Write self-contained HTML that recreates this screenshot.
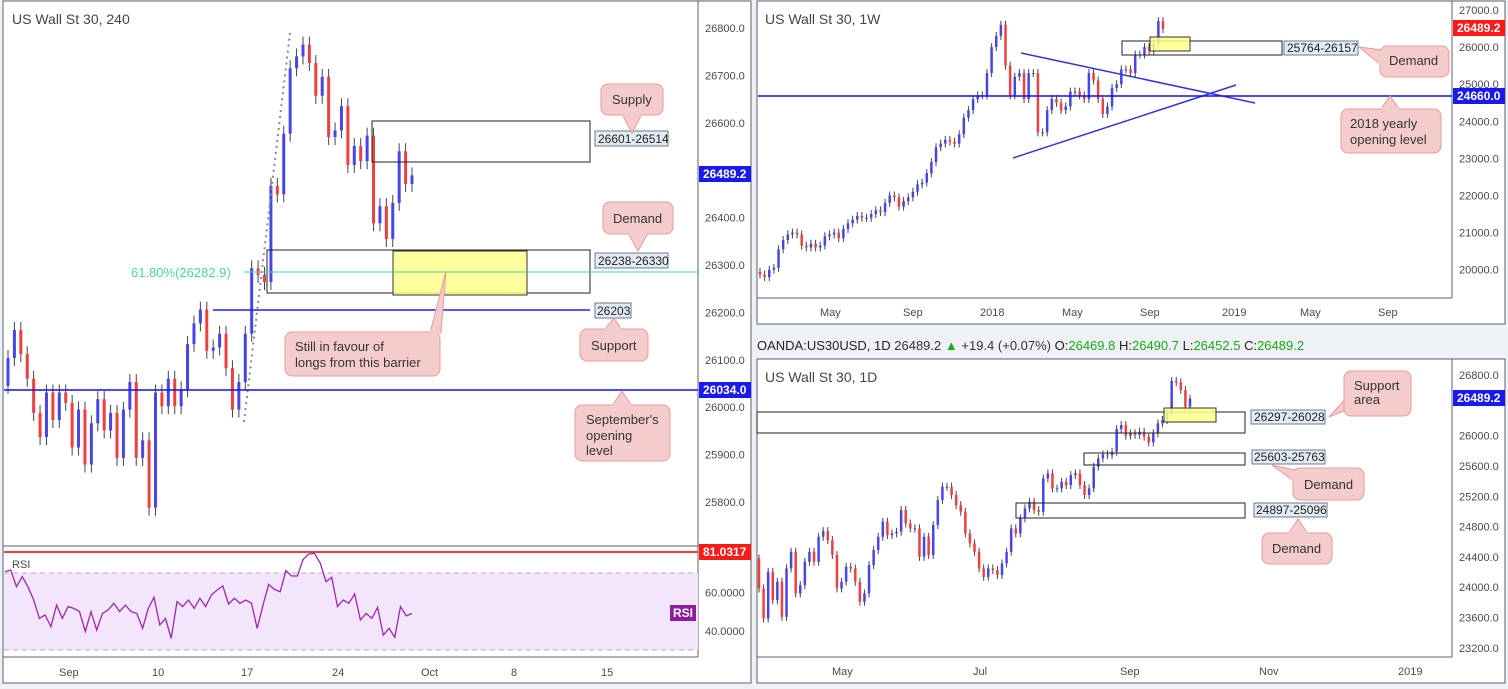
<!DOCTYPE html>
<html><head><meta charset="utf-8">
<style>
html,body{margin:0;padding:0;background:#eef1f5;}
svg{display:block;font-family:"Liberation Sans",sans-serif;}
.ax{font-size:11px;fill:#4a4a4a;}
.tt{font-size:14px;fill:#444;}
.co{font-size:13px;fill:#333;}
.lb{font-size:12px;fill:#222;}
</style></head>
<body>
<svg id="chart" width="1508" height="689" viewBox="0 0 1508 689" xmlns="http://www.w3.org/2000/svg">
  <!-- panels -->
  <rect x="3" y="1" width="748" height="682" fill="#fff" stroke="#5d606b"/>
  <rect x="757" y="1" width="748" height="323" fill="#fff" stroke="#5d606b"/>
  <rect x="757" y="359" width="748" height="324" fill="#fff" stroke="#5d606b"/>
  <line x1="698" y1="1" x2="698" y2="657" stroke="#5d606b"/>
  <line x1="3" y1="546" x2="751" y2="546" stroke="#5d606b"/>
  <line x1="3" y1="657" x2="698" y2="657" stroke="#5d606b"/>
  <line x1="1452" y1="1" x2="1452" y2="298" stroke="#5d606b"/>
  <line x1="757" y1="298" x2="1452" y2="298" stroke="#5d606b"/>
  <line x1="1452" y1="359" x2="1452" y2="657" stroke="#5d606b"/>
  <line x1="757" y1="657" x2="1452" y2="657" stroke="#5d606b"/>

  <text class="tt" x="12" y="24">US Wall St 30, 240</text>
  <text class="tt" x="765" y="24">US Wall St 30, 1W</text>
  <text class="tt" x="765" y="382">US Wall St 30, 1D</text>

  <g font-size="13">
    <text x="757" y="350" fill="#222">OANDA:US30USD, 1D <tspan fill="#333">26489.2</tspan> <tspan fill="#1aaa1a">▲</tspan> <tspan fill="#333">+19.4 (+0.07%)</tspan> O:<tspan fill="#1aaa1a">26469.8</tspan> H:<tspan fill="#1aaa1a">26490.7</tspan> L:<tspan fill="#1aaa1a">26452.5</tspan> C:<tspan fill="#1aaa1a">26489.2</tspan></text>
  </g>

  <!-- RSI background -->
  <rect x="4" y="573" width="694" height="77" fill="#f3e5fc"/>
  <line x1="4" y1="573" x2="698" y2="573" stroke="#b8a8c8" stroke-dasharray="5,4"/>
  <line x1="4" y1="650" x2="698" y2="650" stroke="#b8a8c8" stroke-dasharray="5,4"/>
  <line x1="4" y1="552" x2="698" y2="552" stroke="#e00" stroke-width="1.5"/>
  <text class="ax" x="12" y="568" fill="#555" font-size="12">RSI</text>

  <g id="g4h"></g>
  <g id="gW"></g>
  <g id="gD"></g>
  <g id="gAxes"></g>

  <!-- 4h annotations -->
  <line x1="244" y1="422" x2="290" y2="33" stroke="#888" stroke-width="2" stroke-dasharray="2,4"/>
  <rect x="372" y="121" width="218" height="41" fill="none" stroke="#222"/>
  <rect x="267" y="250" width="323" height="43" fill="none" stroke="#222"/>
  <rect x="393" y="251" width="134" height="44" fill="#ffff8a" stroke="#333" fill-opacity="0.85"/>
  <line x1="244" y1="272" x2="698" y2="272" stroke="#4fd1a5"/>
  <text x="131" y="277" font-size="13" fill="#4fd1a5">61.80%(26282.9)</text>
  <line x1="213" y1="310" x2="590" y2="310" stroke="#2222ee" stroke-width="1.5"/>
  <line x1="4" y1="390" x2="698" y2="390" stroke="#1111ee" stroke-width="1.5"/>

  <rect x="595" y="131" width="73" height="15" fill="#e3ecf4" stroke="#6b7c8c"/>
  <text class="lb" x="598" y="143">26601-26514</text>
  <rect x="595" y="253" width="73" height="15" fill="#e3ecf4" stroke="#6b7c8c"/>
  <text class="lb" x="598" y="265">26238-26330</text>
  <rect x="595" y="303" width="36" height="15" fill="#e3ecf4" stroke="#6b7c8c"/>
  <text class="lb" x="597" y="315">26203</text>

  <g>
    <polygon points="622,114 642,114 632,133" fill="#f4cccc" stroke="#e89a9a"/>
    <rect x="601" y="84" width="62" height="31" rx="7" fill="#f4cccc" stroke="#e89a9a"/>
    <rect x="623" y="112" width="18" height="4" fill="#f4cccc"/>
    <text class="co" x="612" y="104">Supply</text>
  </g>
  <g>
    <polygon points="628,233 648,233 638,251" fill="#f4cccc" stroke="#e89a9a"/>
    <rect x="603" y="202" width="70" height="32" rx="7" fill="#f4cccc" stroke="#e89a9a"/>
    <rect x="629" y="231" width="18" height="4" fill="#f4cccc"/>
    <text class="co" x="613" y="223">Demand</text>
  </g>
  <g>
    <polygon points="604,330 622,330 614,318" fill="#f4cccc" stroke="#e89a9a"/>
    <rect x="580" y="329" width="68" height="32" rx="7" fill="#f4cccc" stroke="#e89a9a"/>
    <rect x="605" y="327" width="16" height="4" fill="#f4cccc"/>
    <text class="co" x="591" y="350">Support</text>
  </g>
  <g>
    <polygon points="430,333 441,333 446,271" fill="#f4cccc" stroke="#e89a9a"/>
    <rect x="285" y="332" width="155" height="44" rx="7" fill="#f4cccc" stroke="#e89a9a"/>
    <rect x="430" y="330" width="10" height="4" fill="#f4cccc"/>
    <text class="co" x="295" y="351">Still in favour of</text>
    <text class="co" x="295" y="367">longs from this barrier</text>
  </g>
  <g>
    <polygon points="612,406 632,406 622,391" fill="#f4cccc" stroke="#e89a9a"/>
    <rect x="575" y="405" width="95" height="56" rx="7" fill="#f4cccc" stroke="#e89a9a"/>
    <rect x="613" y="403" width="18" height="4" fill="#f4cccc"/>
    <text class="co" x="586" y="424">September's</text>
    <text class="co" x="586" y="440">opening</text>
    <text class="co" x="586" y="455">level</text>
  </g>

  <!-- weekly annotations -->
  <line x1="1021" y1="53" x2="1255" y2="103" stroke="#3333dd" stroke-width="1.5"/>
  <line x1="1013" y1="158" x2="1236" y2="85" stroke="#3333dd" stroke-width="1.5"/>
  <line x1="758" y1="96" x2="1452" y2="96" stroke="#1111ee" stroke-width="1.5"/>
  <rect x="1122" y="41" width="160" height="14" fill="none" stroke="#222"/>
  <rect x="1150" y="37" width="40" height="14" fill="#ffff8a" stroke="#333" fill-opacity="0.85"/>
  <rect x="1284" y="41" width="74" height="14" fill="#e3ecf4" stroke="#6b7c8c"/>
  <text class="lb" x="1287" y="52">25764-26157</text>
  <g>
    <polygon points="1382,50 1382,66 1359,47" fill="#f4cccc" stroke="#e89a9a"/>
    <rect x="1380" y="46" width="69" height="31" rx="7" fill="#f4cccc" stroke="#e89a9a"/>
    <rect x="1378" y="51" width="5" height="14" fill="#f4cccc"/>
    <text class="co" x="1389" y="65">Demand</text>
  </g>
  <g>
    <polygon points="1380,110 1400,110 1390,96" fill="#f4cccc" stroke="#e89a9a"/>
    <rect x="1341" y="109" width="100" height="44" rx="7" fill="#f4cccc" stroke="#e89a9a"/>
    <rect x="1381" y="107" width="18" height="4" fill="#f4cccc"/>
    <text class="co" x="1350" y="128">2018 yearly</text>
    <text class="co" x="1350" y="144">opening level</text>
  </g>

  <!-- daily annotations -->
  <rect x="757" y="412" width="488" height="21" fill="none" stroke="#222"/>
  <rect x="1164" y="408" width="52" height="14" fill="#ffff8a" stroke="#333" fill-opacity="0.85"/>
  <rect x="1084" y="453" width="161" height="12" fill="none" stroke="#222"/>
  <rect x="1016" y="503" width="229" height="15" fill="none" stroke="#222"/>
  <rect x="1251" y="410" width="74" height="14" fill="#e3ecf4" stroke="#6b7c8c"/>
  <text class="lb" x="1254" y="421">26297-26028</text>
  <rect x="1252" y="450" width="73" height="14" fill="#e3ecf4" stroke="#6b7c8c"/>
  <text class="lb" x="1254" y="461">25603-25763</text>
  <rect x="1254" y="503" width="73" height="14" fill="#e3ecf4" stroke="#6b7c8c"/>
  <text class="lb" x="1256" y="514">24897-25096</text>
  <g>
    <polygon points="1346,398 1346,410 1329,417" fill="#f4cccc" stroke="#e89a9a"/>
    <rect x="1344" y="371" width="67" height="45" rx="7" fill="#f4cccc" stroke="#e89a9a"/>
    <text class="co" x="1354" y="390">Support</text>
    <text class="co" x="1354" y="404">area</text>
  </g>
  <g>
    <polygon points="1295,470 1295,482 1272,465" fill="#f4cccc" stroke="#e89a9a"/>
    <rect x="1293" y="468" width="71" height="32" rx="7" fill="#f4cccc" stroke="#e89a9a"/>
    <rect x="1291" y="471" width="5" height="10" fill="#f4cccc"/>
    <text class="co" x="1304" y="489">Demand</text>
  </g>
  <g>
    <polygon points="1288,534 1308,534 1298,519" fill="#f4cccc" stroke="#e89a9a"/>
    <rect x="1262" y="533" width="70" height="31" rx="7" fill="#f4cccc" stroke="#e89a9a"/>
    <rect x="1289" y="531" width="18" height="4" fill="#f4cccc"/>
    <text class="co" x="1272" y="553">Demand</text>
  </g>
</svg>
<script>
// ===== 4H data =====
const closes4h = [26104,26163,26112,26060,25988,25937,26031,25973,26031,26009,25915,25995,25879,25966,26017,25951,25988,25893,25995,26053,25893,25930,25788,26031,26002,26060,26002,26038,26133,26177,26206,26119,26126,26155,26082,25995,26053,26155,26293,26279,26264,26467,26449,26577,26715,26740,26765,26726,26657,26697,26570,26584,26635,26511,26551,26519,26573,26388,26424,26355,26431,26540,26471,26489];
const rsiValues = [70.7,71.5,62.9,68.1,62.9,56.0,46.5,48.3,42.2,53.4,46.5,52.6,51.7,50.0,39.7,50.0,40.5,49.1,50.9,54.3,50.0,53.4,50.0,49.1,41.4,51.7,57.4,43.1,46.5,36.2,55.2,52.6,56.0,51.7,56.9,52.6,58.6,61.2,63.3,53.9,56.9,54.3,56.0,54.3,41.4,53.4,64.1,61.5,60.3,71.2,68.4,68.4,77.0,79.8,80.1,75.0,65.5,67.7,52.6,56.0,54.3,59.1,45.7,49.1,46.5,52.2,37.9,41.4,36.7,52.6,47.8,49.1];
const ticks4h = [26800,26700,26600,26500,26400,26300,26200,26100,26000,25900,25800];
const rsiTicks = [60,40];
const time4hLabels = ["Sep","10","17","24","Oct","8","15"];
// ===== Weekly data =====
const closesW = [19870,19800,20000,20050,20550,20800,20950,21000,20950,20650,20600,20700,20600,20650,20900,20950,21000,20850,21100,21250,21350,21450,21400,21400,21500,21600,21550,21800,22000,21950,21700,21850,21950,22100,22300,22350,22600,22900,23300,23400,23500,23450,23400,23650,24100,24300,24600,24700,24700,25300,26000,26300,26600,25500,24700,25200,25300,24600,25300,25300,23700,23700,24300,24600,24500,24300,24400,24800,24800,24700,24600,25300,25100,24600,24200,24400,24900,25000,25400,25400,25300,25800,25800,26000,25900,26100,26700,26489];
const ticksW = [27000,26000,25000,24000,23000,22000,21000,20000];
const timeWLabels = ["May","Sep","2018","May","Sep","2019","May","Sep"];
// ===== Daily data =====
const closesD = [23984,23588,24204,23830,24072,23610,24248,24468,23918,24028,24336,24468,24336,24666,24741,24622,24424,23984,24072,24270,24248,24072,23808,23918,24292,24490,24666,24864,24688,24710,24732,25018,24842,24776,24776,24402,24666,24424,24820,25150,25326,25326,25216,25084,24996,24710,24578,24468,24248,24138,24248,24226,24160,24314,24468,24776,24710,24908,25040,25128,25018,24996,25436,25502,25304,25304,25392,25348,25480,25502,25348,25216,25304,25590,25700,25753,25744,25788,26087,26140,26000,26031,26009,26052,25986,25911,26031,26162,26206,26294,26721,26703,26602,26382,26489];
const ticksD = [26800,26000,25600,25200,24800,24400,24000,23600,23200];
const timeDLabels = ["May","Jul","Sep","Nov","2019"];

const NS="http://www.w3.org/2000/svg";
function mk(tag, attrs, parent){const e=document.createElementNS(NS,tag);for(const k in attrs)e.setAttribute(k,attrs[k]);parent.appendChild(e);return e;}

// scales
const y4h = p => 28 + (26800 - p) * 0.474;
const x4h = i => 8 + i * (404 / (closes4h.length - 1));
const yRsi = v => 592.3 - (v - 60) * 1.935;
const xRsi = i => 5 + i * (407 / (rsiValues.length - 1));
const yW = p => 10 + (27000 - p) * 0.0371;
const xW = i => 760 + i * (403 / (closesW.length - 1));
const yD = p => 375 + (26800 - p) * 0.0758;
const xD = i => 759 + i * (431 / (closesD.length - 1));

function drawCandles(g, closes, xf, yf, bw, wickPx){
  for(let i=0;i<closes.length;i++){
    const o = i ? closes[i-1] : closes[0] - (closes[1]-closes[0]);
    const c = closes[i];
    const up = c >= o;
    const col = up ? "#4646e6" : "#ee4040";
    const top = yf(Math.max(o,c)), bot = yf(Math.min(o,c));
    const x = xf(i);
    const wk = mk('line',{x1:x,x2:x,y1:top-wickPx,y2:bot+wickPx,stroke:"#444","stroke-width":1},g);
    
    
    const r = mk('rect',{x:x-bw/2,y:top,width:bw,height:Math.max(1,bot-top),fill:col},g);
    
    
  }
}
drawCandles(document.getElementById('g4h'), closes4h, x4h, y4h, 3, 8);
drawCandles(document.getElementById('gW'), closesW, xW, yW, 2.5, 4);
drawCandles(document.getElementById('gD'), closesD, xD, yD, 2.5, 4);

// RSI line
const gA = document.getElementById('gAxes');
const pts = rsiValues.map((v,i)=>xRsi(i).toFixed(1)+","+yRsi(v).toFixed(1)).join(" ");
const pl = mk('polyline',{points:pts,fill:"none",stroke:"#9c27b0","stroke-width":1.3},gA);



function tickText(x,y,txt,parent,name){
  const t = mk('text',{x:x,y:y,class:"ax"},parent);
  t.textContent = txt;
  
  
}
ticks4h.forEach(p=>tickText(705, y4h(p)+4, p.toFixed(1), gA, 'y-tick-4h'));
rsiTicks.forEach(v=>tickText(705, yRsi(v)+4, v.toFixed(4), gA, 'rsi-tick'));
ticksW.forEach(p=>tickText(1459, yW(p)+4, p.toFixed(1), gA, 'y-tick-weekly'));
ticksD.forEach(p=>tickText(1459, yD(p)+4, p.toFixed(1), gA, 'y-tick-daily'));

const t4x=[67,160,249,340,429,519,609];
time4hLabels.forEach((s,i)=>tickText(t4x[i]-8, 676, s, gA, 'x-tick-4h'));
const tWx=[830,913,990,1072,1150,1232,1310,1388];
timeWLabels.forEach((s,i)=>tickText(tWx[i]-10, 316, s, gA, 'x-tick-weekly'));
const tDx=[842,983,1130,1269,1408];
timeDLabels.forEach((s,i)=>tickText(tDx[i]-10, 675, s, gA, 'x-tick-daily'));

function badge(x,y,w,txt,bg,name){
  const r = mk('rect',{x:x,y:y-8,width:w,height:16,fill:bg},gA);
  
  
  const t = mk('text',{x:x+4,y:y+4,fill:"#fff","font-size":"12","font-weight":"bold"},gA);
  t.textContent = txt;
  
  
}
badge(699,174,52,"26489.2","#1a1aee","price-badge-4h");
badge(699,390,52,"26034.0","#1a1aee","sept-open-badge");
badge(699,552,52,"81.0317","#ff1a1a","rsi-max-badge");
badge(1453,28,52,"26489.2","#ff1a1a","price-badge-weekly");
badge(1453,96,52,"24660.0","#1a1aee","yearly-open-badge");
badge(1453,398,52,"26489.2","#1a1aee","price-badge-daily");
const rb = mk('rect',{x:670,y:605,width:26,height:16,fill:"#8e1c9e"},gA);


const rt = mk('text',{x:673,y:617,fill:"#fff","font-size":"12","font-weight":"bold"},gA);
rt.textContent="RSI";


</script>
</body></html>
